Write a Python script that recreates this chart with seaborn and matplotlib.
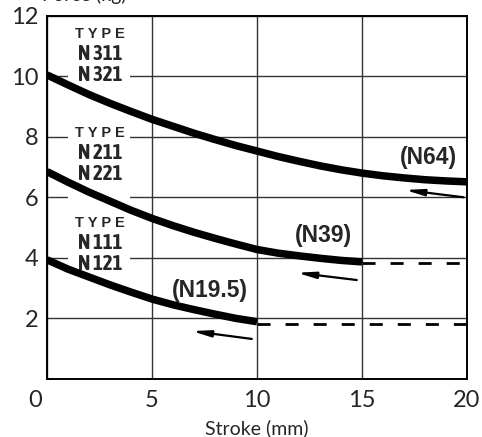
import pandas as pd
import matplotlib.pyplot as plt
import seaborn as sns
from matplotlib import font_manager as fm
from matplotlib.patches import Rectangle
from matplotlib.transforms import ScaledTranslation

# curve readings (stroke mm -> force kg)
x_n64 = [0, 1, 2, 3, 4, 5, 6, 7, 8, 9, 10, 11, 12, 13, 14, 15, 16, 17, 18, 19, 20]
y_n64 = [10.05, 9.72, 9.40, 9.11, 8.84, 8.58, 8.35, 8.12, 7.91, 7.71, 7.53,
         7.35, 7.19, 7.04, 6.91, 6.80, 6.71, 6.64, 6.58, 6.54, 6.51]
x_n39 = [0, 1, 2, 3, 4, 5, 6, 7, 8, 9, 10, 11, 12, 13, 14, 15]
y_n39 = [6.85, 6.50, 6.17, 5.87, 5.57, 5.30, 5.06, 4.84, 4.64, 4.45, 4.27,
         4.15, 4.06, 3.98, 3.91, 3.86]
x_n19 = [0, 1, 2, 3, 4, 5, 6, 7, 8, 9, 10]
y_n19 = [3.93, 3.62, 3.36, 3.10, 2.86, 2.63, 2.44, 2.28, 2.13, 1.99, 1.88]

# dashed continuation lines
dash_n39_x = [15, 20]
dash_n39_y = [3.81, 3.81]
dash_n19_x = [10, 20]
dash_n19_y = [1.8, 1.8]

# curve labels and type blocks
curve_labels = ["(N64)", "(N39)", "(N19.5)"]
curve_label_x = [18.15, 13.15, 7.75]
curve_label_y = [7.33, 4.75, 2.9]
type_blocks = [["N 311", "N 321"], ["N 211", "N 221"], ["N 111", "N 121"]]
type_block_y = [11.41, 8.13, 5.15]

# arrows (tail -> head)
arrow_tail = [(19.83, 6.0), (14.75, 3.26), (9.75, 1.31)]
arrow_head = [(17.05, 6.24), (11.9, 3.5), (6.9, 1.57)]

xticks = [0, 5, 10, 15, 20]
yticks = [2, 4, 6, 8, 10, 12]

df = pd.concat([
    pd.DataFrame({"Stroke": x_n64, "Force": y_n64, "serie": "N64"}),
    pd.DataFrame({"Stroke": x_n39, "Force": y_n39, "serie": "N39"}),
    pd.DataFrame({"Stroke": x_n19, "Force": y_n19, "serie": "N19.5"}),
])
df_dash = pd.concat([
    pd.DataFrame({"Stroke": dash_n39_x, "Force": dash_n39_y, "serie": "N39"}),
    pd.DataFrame({"Stroke": dash_n19_x, "Force": dash_n19_y, "serie": "N19.5"}),
])

sns.set_style("white")
plt.rcParams["font.family"] = ["Lato", "DejaVu Sans"]
plt.rcParams["lines.solid_capstyle"] = "butt"

# a narrow bold face for the type labels if there is one
def _w(f):
    try:
        return int(f.weight)
    except (TypeError, ValueError):
        return 700 if "bold" in str(f.weight).lower() else 400

narrow_bold = sorted({f.name for f in fm.fontManager.ttflist
                      if ("Narrow" in f.name or "Condensed" in f.name) and _w(f) >= 600})
if narrow_bold:
    narrow = [narrow_bold[0], "Liberation Sans"]
    type_size = 15
else:
    narrow = ["Liberation Sans", "DejaVu Sans"]
    type_size = 13

fig = plt.figure(figsize=(4.82, 4.37), dpi=100)
ax = fig.add_axes([47 / 482, 1 - 378.5 / 437, 420 / 482, 362.5 / 437])

pal = {"N64": "black", "N39": "black", "N19.5": "black"}
sns.lineplot(data=df, x="Stroke", y="Force", hue="serie", palette=pal,
             linewidth=5.4, legend=False, ax=ax, zorder=4)
sns.lineplot(data=df_dash, x="Stroke", y="Force", hue="serie", palette=pal,
             linewidth=2.0, linestyle=(0, (4.7, 5.4)), legend=False, ax=ax, zorder=4)

ax.set_xlim(0, 20)
ax.set_ylim(0, 12)
ax.set_xticks(xticks)
ax.set_yticks(yticks)
ax.set_xticklabels([str(t) for t in xticks], fontsize=17)
ax.set_yticklabels([str(t) for t in yticks], fontsize=17)
ax.tick_params(axis="x", length=0, pad=8)
ax.tick_params(axis="y", length=0, pad=6)
ax.set_xlabel("Stroke (mm)", fontsize=14, labelpad=6)
ax.set_ylabel("")

# "0" sits a little left of the corner
lab0 = ax.get_xticklabels()[0]
lab0.set_transform(lab0.get_transform() + ScaledTranslation(-0.12, 0, fig.dpi_scale_trans))

ax.set_axisbelow(True)
ax.grid(True, color="#333333", linewidth=1.0)
for s in ax.spines.values():
    s.set_color("black")
    s.set_linewidth(1.4)

# white column behind type labels breaks the grid lines
ax.add_patch(Rectangle((1.0, 3.4), 2.95, 8.4, facecolor="white", edgecolor="none", zorder=2))

for lines, yy in zip(type_blocks, type_block_y):
    ax.text(2.52, yy, "T Y P E", ha="center", va="center", fontsize=10.5,
            fontweight="bold", family=["Liberation Sans", "DejaVu Sans"], zorder=3)
    for i, t in enumerate(lines):
        ax.text(2.52, yy - (i + 1) * 0.68, t, ha="center", va="center", fontsize=type_size,
                fontweight="bold", family=narrow, zorder=3)

for t, xx, yy in zip(curve_labels, curve_label_x, curve_label_y):
    ax.text(xx, yy, t, ha="center", va="center", fontsize=16.5, fontweight="bold",
            family=["Liberation Sans", "DejaVu Sans"], zorder=5)

for tail, head in zip(arrow_tail, arrow_head):
    ax.annotate("", xy=head, xytext=tail,
                arrowprops=dict(arrowstyle="-|>,head_length=0.9,head_width=0.16",
                                mutation_scale=12, color="black", lw=1.6,
                                shrinkA=0, shrinkB=0))

# axis title cut off at the top of the image
fig.text(127 / 482, 1 - 1.5 / 437, "Force (kg)", ha="right", va="baseline", fontsize=14)

fig.savefig("out.png", dpi=100)
